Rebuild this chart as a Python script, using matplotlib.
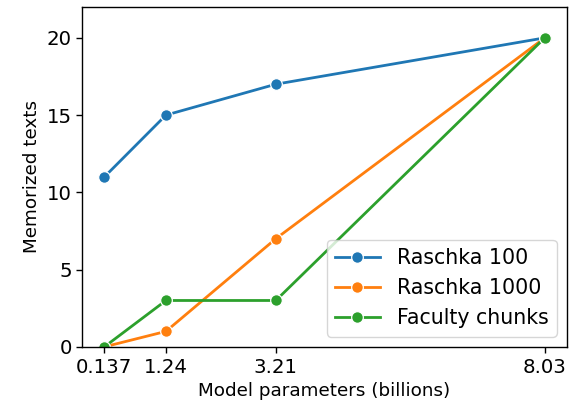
import matplotlib
matplotlib.use("Agg")
import matplotlib.pyplot as plt

params = [0.137, 1.24, 3.21, 8.03]
raschka_100 = [11, 15, 17, 20]
raschka_1000 = [0, 1, 7, 20]
faculty_chunks = [0, 3, 3, 20]

fig, ax = plt.subplots(figsize=(5.76, 4.09), dpi=100)
fig.subplots_adjust(left=0.143, right=0.984, top=0.983, bottom=0.152)

for y, lab, c in [(raschka_100, "Raschka 100", "#1f77b4"),
                  (raschka_1000, "Raschka 1000", "#ff7f0e"),
                  (faculty_chunks, "Faculty chunks", "#2ca02c")]:
    ax.plot(params, y, marker="o", markersize=8.4, markeredgecolor="white",
            markeredgewidth=0.9, linewidth=2.0, color=c, label=lab)

ax.set_xticks(params)
ax.set_xticklabels([str(p) for p in params])
ax.set_ylim(0, 22)
ax.set_yticks([0, 5, 10, 15, 20])
ax.tick_params(labelsize=14.2, length=4.2, width=1.0)
ax.set_xlabel("Model parameters (billions)", fontsize=13.2)
ax.set_ylabel("Memorized texts", fontsize=13.2)
for s in ax.spines.values():
    s.set_linewidth(1.0)
ax.legend(loc="lower right", fontsize=14.8, handlelength=2.2)

fig.savefig("out.png", dpi=100)
